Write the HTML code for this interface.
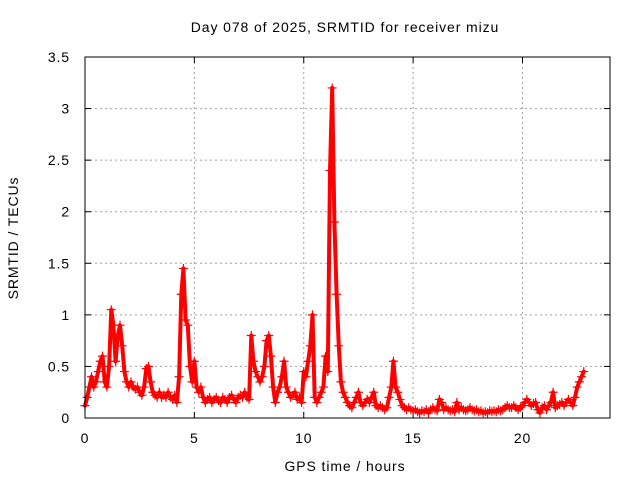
<!DOCTYPE html>
<html><head><meta charset="utf-8"><style>
body{margin:0;background:#fff}
svg text{font-family:"Liberation Sans",sans-serif;font-size:14px;letter-spacing:0.9px;fill:#000}
</style></head><body>
<svg id="chart" width="640" height="480">
<text x="345" y="32" text-anchor="middle">Day 078 of 2025, SRMTID for receiver mizu</text>
<text x="345" y="471" text-anchor="middle">GPS time / hours</text>
<text transform="translate(18,238) rotate(-90)" text-anchor="middle">SRMTID / TECUs</text>
<g id="grid"></g><g id="ticks"></g><g id="marks"></g>
<rect x="85" y="57" width="525" height="361" fill="none" stroke="#000" stroke-width="1"/>
</svg>
<script>
const yTicks=[0,0.5,1,1.5,2,2.5,3,3.5];
const yTickLabels=["0","0.5","1","1.5","2","2.5","3","3.5"];
const xTicks=[0,5,10,15,20];
const xTickLabels=["0","5","10","15","20"];
const startHour=0, stepHour=0.1;
const srmtid=[.12,.2,.3,.4,.3,.35,.45,.55,.6,.35,.3,.5,1.05,.9,.55,.8,.9,.7,.45,.35,
.3,.35,.3,.28,.3,.25,.22,.3,.48,.5,.35,.25,.22,.2,.25,.2,.22,.2,.25,.2,
.18,.22,.15,.4,1.2,1.45,.95,.9,.5,.35,.55,.3,.25,.3,.2,.15,.18,.2,.15,.18,
.2,.17,.15,.2,.18,.15,.2,.22,.18,.15,.2,.22,.2,.25,.2,.18,.8,.55,.45,.4,
.35,.4,.5,.75,.8,.6,.3,.15,.25,.3,.4,.55,.3,.25,.2,.22,.25,.18,.2,.15,
.45,.4,.55,.7,1.0,.2,.15,.2,.25,.3,.6,.45,2.4,3.2,1.9,1.2,.7,.35,.25,.2,
.15,.12,.1,.15,.2,.25,.15,.12,.15,.18,.15,.2,.25,.12,.1,.12,.1,.08,.1,.2,
.3,.55,.3,.25,.18,.12,.1,.08,.1,.08,.07,.08,.06,.05,.07,.06,.08,.05,.08,.1,
.08,.07,.18,.15,.08,.1,.08,.07,.08,.06,.15,.08,.1,.08,.07,.08,.1,.08,.07,.08,
.06,.07,.05,.06,.05,.07,.06,.07,.06,.08,.07,.08,.1,.12,.1,.1,.12,.1,.08,.1,
.12,.15,.18,.15,.12,.14,.15,.08,.05,.1,.12,.08,.12,.15,.25,.1,.12,.13,.15,.12,
.15,.18,.15,.12,.2,.3,.35,.4,.45];
const NS="http://www.w3.org/2000/svg";
const L=85,R=610,T=57,B=418,XMAX=24,YMAX=3.5;
function xs(h){return L+(R-L)*h/XMAX;}
function ys(v){return B-(B-T)*v/YMAX;}
function mk(tag,attrs,parent){const e=document.createElementNS(NS,tag);for(const k in attrs)e.setAttribute(k,attrs[k]);parent.appendChild(e);return e;}
const grid=document.getElementById('grid'),ticks=document.getElementById('ticks'),marks=document.getElementById('marks');
yTicks.forEach((v,i)=>{
  const y=ys(v);
  if(v>0&&v<YMAX){const g=mk('line',{x1:L,x2:R,y1:y,y2:y,stroke:'#a0a0a0','stroke-dasharray':'2,3'},grid);
  
  }
  mk('line',{x1:L,x2:L+6,y1:y,y2:y,stroke:'#000'},ticks);
  mk('line',{x1:R,x2:R-6,y1:y,y2:y,stroke:'#000'},ticks);
  const t=mk('text',{x:70,y:y+5,'text-anchor':'end'},ticks);t.textContent=yTickLabels[i];
  
  
});
xTicks.forEach((h,i)=>{
  const x=xs(h);
  if(h>0){const g=mk('line',{x1:x,x2:x,y1:T,y2:B,stroke:'#a0a0a0','stroke-dasharray':'2,3'},grid);
  
  }
  mk('line',{x1:x,x2:x,y1:B,y2:B-6,stroke:'#000'},ticks);
  mk('line',{x1:x,x2:x,y1:T,y2:T+6,stroke:'#000'},ticks);
  const t=mk('text',{x:x,y:443,'text-anchor':'middle'},ticks);t.textContent=xTickLabels[i];
  
  
});
const pts=srmtid.map((v,i)=>xs(startHour+i*stepHour).toFixed(1)+','+ys(v).toFixed(1)).join(' ');
const band=mk('polyline',{points:pts,fill:'none',stroke:'#ff0000','stroke-width':4,'stroke-linejoin':'round','stroke-linecap':'round'},marks);


srmtid.forEach((v,i)=>{
  const x=xs(startHour+i*stepHour),y=ys(v);
  const p=mk('path',{d:`M${x-4.5},${y}h9M${x},${y-4.5}v9`,stroke:'#ff0000','stroke-width':1.2,fill:'none'},marks);
  
  
});
</script>
</body></html>
